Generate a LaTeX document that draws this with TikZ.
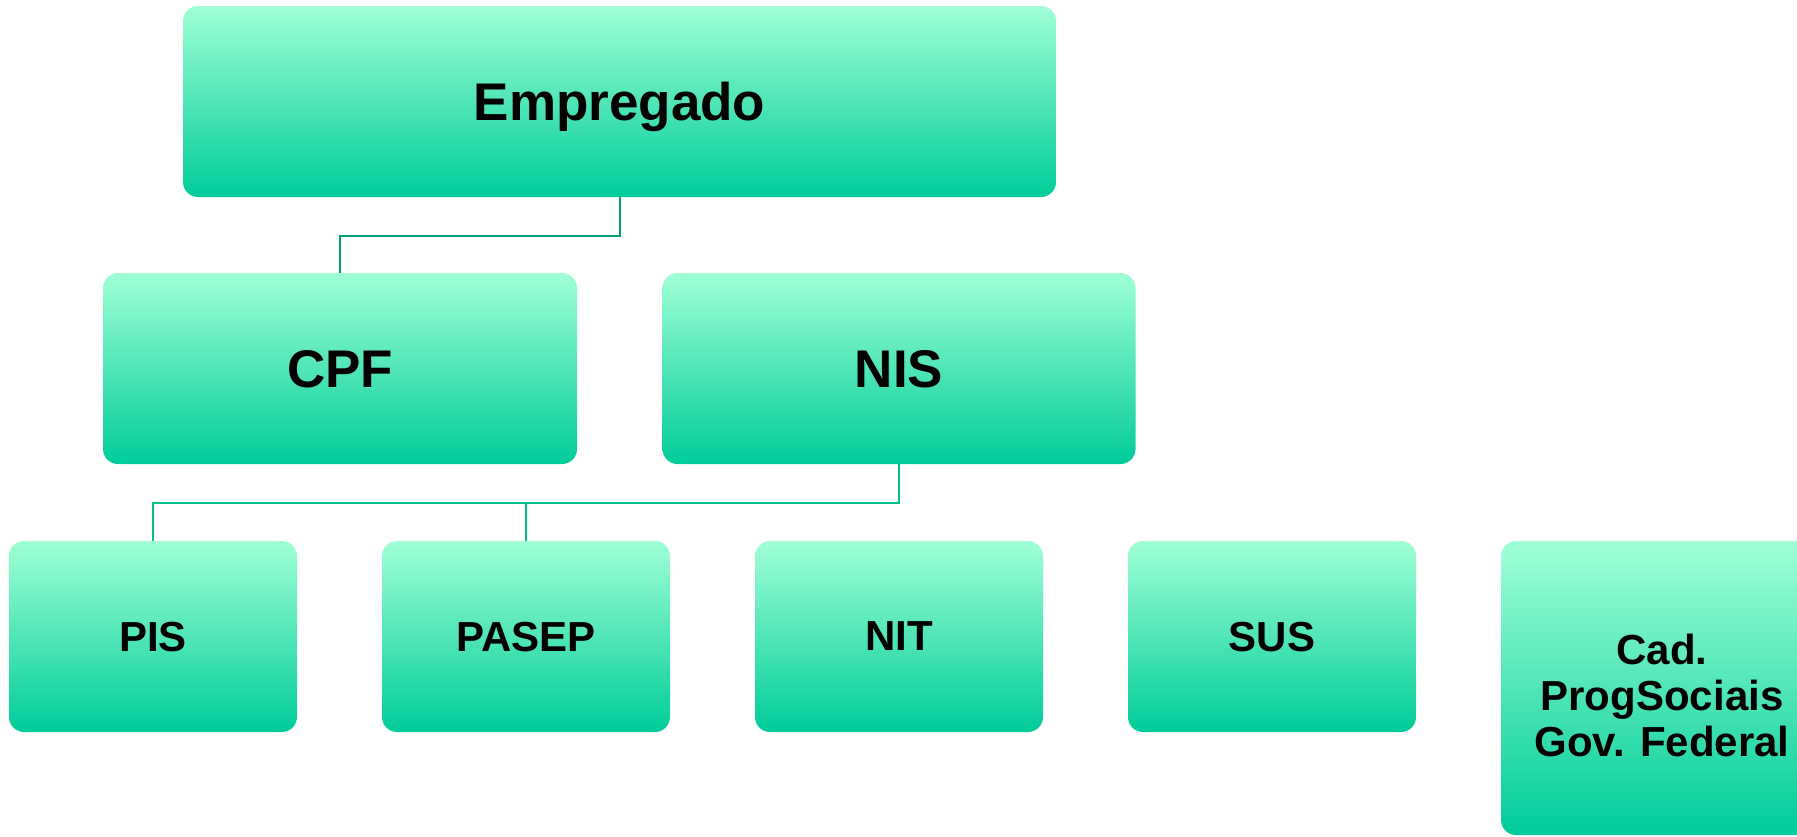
\documentclass[tikz,border=0pt]{standalone}
\usepackage{fontspec}
\setmainfont{Liberation Sans}
\definecolor{boxtop}{RGB}{160,255,214}
\definecolor{boxbot}{RGB}{0,204,153}
\definecolor{lineA}{RGB}{0,160,119}
\definecolor{lineB}{RGB}{0,192,138}
\tikzset{
  orgbox/.style={rectangle, rounded corners=15pt, draw=none,
    top color=boxtop, bottom color=boxbot, inner sep=0pt, align=center,
    font=\bfseries},
  bigtext/.style={font=\fontsize{53}{60}\selectfont\bfseries, text depth=0pt},
  smalltext/.style={font=\fontsize{42}{46}\selectfont\bfseries, text depth=0pt},
  multitext/.style={font=\fontsize{42}{46}\selectfont\bfseries, align=center, inner sep=0pt},
  connA/.style={draw=lineA, line width=2pt},
  connB/.style={draw=lineB, line width=2pt},
}
\begin{document}
\begin{tikzpicture}[x=1pt,y=-1pt]
\useasboundingbox (0,0) rectangle (1797,836);
\clip (0,0) rectangle (1797,836);
\node[orgbox, bigtext, minimum width=873pt, minimum height=191pt] (emp) at (619.5,101.5) {Empregado};
\node[orgbox, bigtext, minimum width=474pt, minimum height=191pt] (cpf) at (340,368.5) {CPF};
\node[orgbox, bigtext, minimum width=473pt, minimum height=191pt] (nis) at (899,368.5) {NIS};
\node[orgbox, smalltext, minimum width=288pt, minimum height=191pt] (pis) at (153,636.5) {PIS};
\node[orgbox, smalltext, minimum width=288pt, minimum height=191pt] (pasep) at (526,636.5) {PASEP};
\node[orgbox, smalltext, minimum width=288pt, minimum height=191pt] (nit) at (899,636.5) {NIT};
\node[orgbox, smalltext, minimum width=288pt, minimum height=191pt] (sus) at (1272,636.5) {SUS};
\node[orgbox, minimum width=322pt, minimum height=294pt] (cad) at (1662,688) {};
\node[multitext] (cadtxt) at ([yshift=-7pt]cad.center) {Cad.\\ProgSociais\\Gov. Federal};
\coordinate (j1) at (emp.south |- 0,236);
\coordinate (j2) at (nis.south |- 0,503);
\draw[connA] (emp.south) -- (j1) -| (cpf.north);
\draw[connB] (nis.south) -- (j2) -| (pis.north);
\draw[connB] (pasep.north) -- (pasep.north |- j2);
\end{tikzpicture}
\end{document}
